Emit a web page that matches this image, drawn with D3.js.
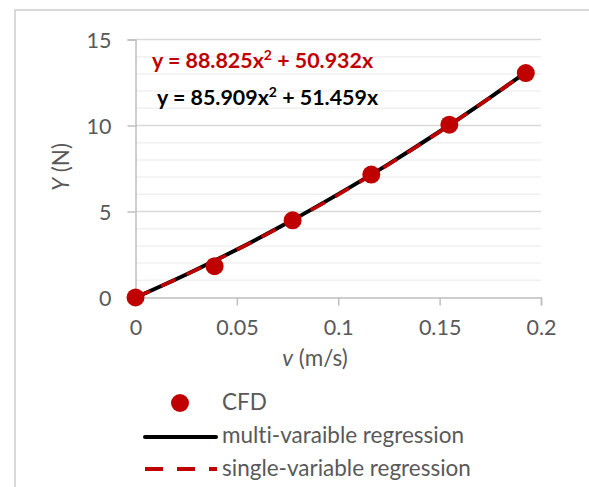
<!DOCTYPE html>
<html>
<head>
<meta charset="utf-8">
<script src="https://cdnjs.cloudflare.com/ajax/libs/d3/7.8.5/d3.min.js"></script>
<style>
  body { margin: 0; background: #fff; }
  text { font-family: Lato, "Open Sans", sans-serif; font-variant-ligatures: none; }
</style>
</head>
<body>
<div id="chart"></div>
<script>
// CFD points
var cfdX = [0, 0.039, 0.0775, 0.1163, 0.1548, 0.1925];
var cfdY = [0, 1.82, 4.49, 7.15, 10.05, 13.05];

// regression curves
var fitX = [0, 0.025, 0.05, 0.075, 0.1, 0.125, 0.15, 0.175, 0.1925];
var multiY = [0, 1.34, 2.79, 4.34, 6.01, 7.77, 9.65, 11.64, 13.09];
var singleY = [0, 1.33, 2.77, 4.32, 5.98, 7.75, 9.64, 11.63, 13.10];

var xTicks = [0, 0.05, 0.1, 0.15, 0.2];
var yTicks = [0, 5, 10, 15];
var yMinor = [1, 2, 3, 4, 6, 7, 8, 9, 11, 12, 13, 14];

var legendItems = ["CFD", "multi-varaible regression", "single-variable regression"];

var width = 589, height = 487;
var red = "#c00000", gray = "#595959";

var svg = d3.select("#chart").append("svg")
    .attr("width", width)
    .attr("height", height);

// chart frame (only left and top edges show)
svg.append("rect")
    .attr("x", 15).attr("y", 10)
    .attr("width", 600).attr("height", 500)
    .style("fill", "none")
    .style("stroke", "#d9d9d9")
    .style("stroke-width", 2);

var x = d3.scaleLinear().domain([0, 0.2]).range([135.5, 541]);
var y = d3.scaleLinear().domain([0, 15]).range([297.5, 39.5]);

// minor gridlines
svg.append("g").selectAll("line")
    .data(yMinor).enter().append("line")
    .attr("x1", x(0)).attr("x2", x(0.2))
    .attr("y1", function(d){ return y(d); })
    .attr("y2", function(d){ return y(d); })
    .style("stroke", "#f0f0f0")
    .style("stroke-width", 1.5);

// major gridlines
svg.append("g").selectAll("line")
    .data(yTicks.slice(1)).enter().append("line")
    .attr("x1", x(0)).attr("x2", x(0.2))
    .attr("y1", function(d){ return y(d); })
    .attr("y2", function(d){ return y(d); })
    .style("stroke", "#d9d9d9")
    .style("stroke-width", 1.5);

// axes
var xAxis = svg.append("g")
    .attr("transform", "translate(0," + y(0) + ")")
    .call(d3.axisBottom(x).tickValues(xTicks).tickSize(8).tickPadding(14)
        .tickFormat(function(d){ return String(d); }));
var yAxis = svg.append("g")
    .attr("transform", "translate(" + x(0) + ",0)")
    .call(d3.axisLeft(y).tickValues(yTicks).tickSize(8).tickPadding(16));

[xAxis, yAxis].forEach(function(a){
    a.select(".domain").style("stroke", "#bfbfbf").style("stroke-width", 1.5);
    a.selectAll(".tick line").style("stroke", "#bfbfbf").style("stroke-width", 1.5);
    a.selectAll(".tick text")
        .style("font-family", "Lato, sans-serif")
        .style("font-size", "21.5px")
        .style("fill", gray);
});
yAxis.selectAll(".tick text").attr("dy", "0.36em");

// axis titles
var xt = svg.append("text")
    .attr("x", 315).attr("y", 366)
    .attr("text-anchor", "middle")
    .style("font-size", "22.5px")
    .style("fill", gray);
xt.append("tspan").style("font-style", "italic").text("v");
xt.append("tspan").text(" (m/s)");

var yt = svg.append("text")
    .attr("transform", "translate(69,167) rotate(-90)")
    .attr("text-anchor", "middle")
    .style("font-size", "22.5px")
    .style("fill", gray);
yt.append("tspan").style("font-style", "italic").text("Y");
yt.append("tspan").text(" (N)");

// regression lines
var line = d3.line()
    .x(function(d){ return x(d[0]); })
    .y(function(d){ return y(d[1]); })
    .curve(d3.curveMonotoneX);

svg.append("path")
    .datum(d3.zip(fitX, multiY))
    .attr("d", line)
    .style("fill", "none")
    .style("stroke", "#000")
    .style("stroke-width", 4);

svg.append("path")
    .datum(d3.zip(fitX, singleY))
    .attr("d", line)
    .style("fill", "none")
    .style("stroke", red)
    .style("stroke-width", 3.5)
    .style("stroke-dasharray", "16,12");

// CFD markers
svg.append("g").selectAll("circle")
    .data(d3.zip(cfdX, cfdY)).enter().append("circle")
    .attr("cx", function(d){ return x(d[0]); })
    .attr("cy", function(d){ return y(d[1]); })
    .attr("r", 9)
    .style("fill", red);

// trendline equations
function equation(tx, ty, color, a, b) {
    var t = svg.append("text")
        .attr("x", tx).attr("y", ty)
        .style("font-size", "21.4px")
        .style("font-weight", "bold")
        .style("fill", color);
    t.append("tspan").text("y = " + a + "x");
    t.append("tspan").attr("dy", -8).style("font-size", "14px").text("2");
    t.append("tspan").attr("dy", 8).text(" + " + b + "x");
}
equation(152, 68, red, "88.825", "50.932");
equation(157, 105, "#000", "85.909", "51.459");

// legend
var leg = svg.append("g");
leg.append("circle").attr("cx", 180).attr("cy", 403).attr("r", 9).style("fill", red);
leg.append("line")
    .attr("x1", 145).attr("x2", 216).attr("y1", 437).attr("y2", 437)
    .style("stroke", "#000").style("stroke-width", 4).style("stroke-linecap", "round");
leg.append("line")
    .attr("x1", 145).attr("x2", 217).attr("y1", 469).attr("y2", 469)
    .style("stroke", red).style("stroke-width", 4)
    .style("stroke-dasharray", "18,14");

leg.selectAll("text")
    .data(legendItems).enter().append("text")
    .attr("x", 222)
    .attr("y", function(d, i){ return 410 + i * 33; })
    .style("font-size", "22.5px")
    .style("fill", gray)
    .text(function(d){ return d; });
</script>
</body>
</html>
